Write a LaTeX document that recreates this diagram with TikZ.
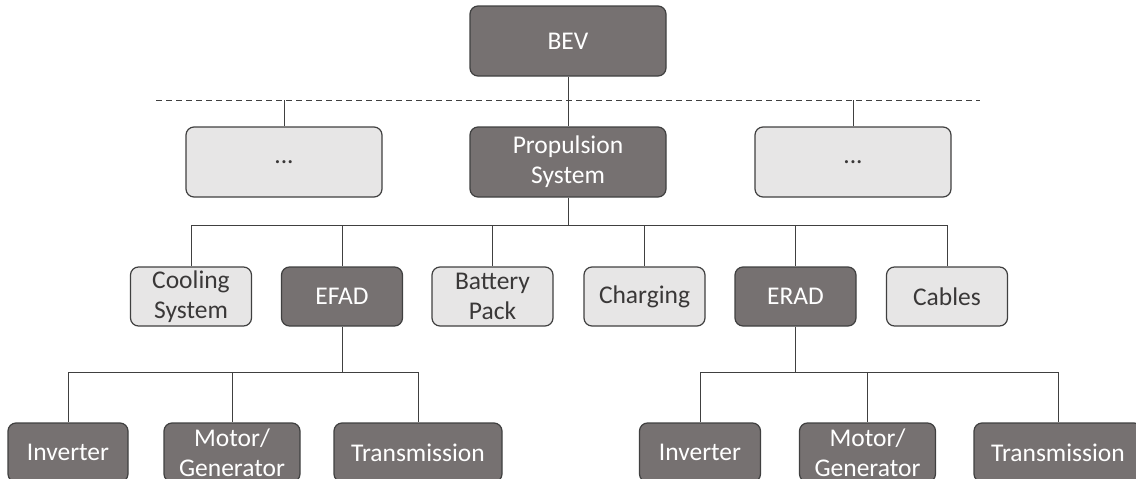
\documentclass[tikz,border=0pt]{standalone}
\usepackage{fontspec}
\setmainfont{Carlito}
\definecolor{darkfill}{HTML}{767171}
\definecolor{lightfill}{HTML}{E7E6E6}
\definecolor{linegray}{HTML}{404040}
\definecolor{textgray}{HTML}{3A3838}
\tikzset{%
  box/.style={draw=linegray, line width=1.2pt, rounded corners=8pt,
    align=center, inner sep=0pt, font=\fontsize{25.5}{30}\selectfont},
  dark box/.style={box, fill=darkfill, text=white},
  light box/.style={box, fill=lightfill, text=textgray},
  big/.style={minimum width=196pt, minimum height=70pt},
  part/.style={minimum width=121pt, minimum height=59pt},
  tree line/.style={draw=linegray, line width=1pt}
}

\begin{document}
\begin{tikzpicture}[x=1pt, y=-1pt]
		\useasboundingbox (0,0) rectangle (1136,479);
		% vehicle and first level
		\node [dark box, big] (bev) at (568,41) {BEV};
		\node [light box, big] (dotsL) at (284,162) {...};
		\node [dark box, big] (prop) at (568,162) {Propulsion\\System};
		\node [light box, big] (dotsR) at (853,162) {...};
		% parts of the propulsion system
		\node [light box, part] (cool) at (191,296.5) {Cooling\\System};
		\node [dark box, part] (efad) at (342,296.5) {EFAD};
		\node [light box, part] (batt) at (492.5,296.5) {Battery\\Pack};
		\node [light box, part] (chg) at (644.5,296.5) {Charging};
		\node [dark box, part] (erad) at (795.5,296.5) {ERAD};
		\node [light box, part] (cab) at (947,296.5) {Cables};
		% axle drive components
		\node [dark box, part, minimum width=120pt] (invF) at (68,452.5) {Inverter};
		\node [dark box, part, minimum width=136pt] (motF) at (232,452.5) {Motor/\\Generator};
		\node [dark box, part, minimum width=168pt] (trF) at (418,452.5) {Transmission};
		\node [dark box, part] (invR) at (700,452.5) {Inverter};
		\node [dark box, part, minimum width=136pt] (motR) at (867.5,452.5) {Motor/\\Generator};
		\node [dark box, part, minimum width=168pt] (trR) at (1058,452.5) {Transmission};
		% connectors
		\coordinate (dashL) at (156,100);
		\coordinate (dashR) at (980,100);
		\draw [tree line, dash pattern=on 6pt off 4pt] (dashL) -- (dashR);
		\draw [tree line] (bev) -- (prop);
		\foreach \n in {dotsL, dotsR}
			\draw [tree line] (\n.north) -- (\n.north |- dashL);
		\coordinate (busP) at (568,225);
		\draw [tree line] (prop) -- (busP);
		\foreach \n in {cool, efad, batt, chg, erad, cab}
			\draw [tree line] (busP) -| (\n.north);
		\coordinate (busF) at (342,372);
		\draw [tree line] (efad) -- (busF);
		\foreach \n in {invF, motF, trF}
			\draw [tree line] (busF) -| (\n.north);
		\coordinate (busR) at (795.5,372);
		\draw [tree line] (erad) -- (busR);
		\foreach \n in {invR, motR, trR}
			\draw [tree line] (busR) -| (\n.north);
	\end{tikzpicture}
\end{document}
